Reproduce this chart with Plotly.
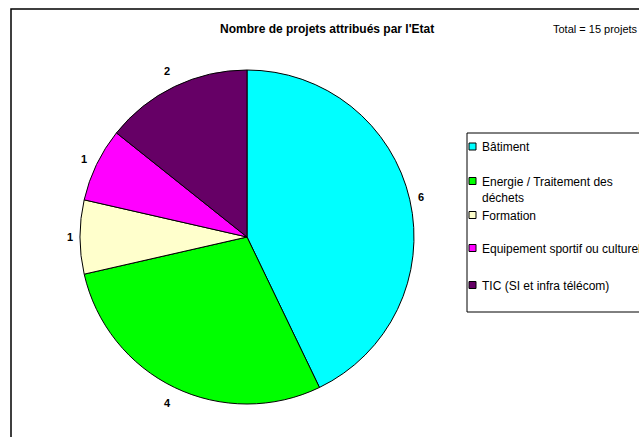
import math
import plotly.graph_objects as go

categories = ["Bâtiment", "Energie / Traitement des déchets", "Formation",
              "Equipement sportif ou culturel", "TIC (SI et infra télécom)"]
legend_labels = ["Bâtiment", "Energie / Traitement des<br>déchets", "Formation",
                 "Equipement sportif ou culturel", "TIC (SI et infra télécom)"]
values = [6, 4, 1, 1, 2]
colors = ["#00FFFF", "#00FF00", "#FFFFCC", "#FF00FF", "#660066"]
title = "Nombre de projets attribués par l'Etat"
total_text = "Total = 15 projets"

W, H = 639, 437
FONT = "Arial, Liberation Sans, sans-serif"


def px(x):
    return x / W


def py(y):
    return 1 - y / H


cx, cy, r = 247, 237, 167

fig = go.Figure(go.Pie(
    labels=categories,
    values=values,
    sort=False,
    direction="clockwise",
    rotation=0,
    marker=dict(colors=colors, line=dict(color="black", width=1)),
    textinfo="none",
    showlegend=False,
    domain=dict(x=[px(cx - r), px(cx + r)], y=[py(cy + r), py(cy - r)]),
    hoverinfo="label+value",
))

shapes = []
annotations = []

# value labels outside each slice, placed at the slice's mid angle
total = sum(values)
acc = 0
for v in values:
    mid = (acc + v / 2) / total * 2 * math.pi
    acc += v
    s, c = math.sin(mid), math.cos(mid)
    dist = r + 10 + 8 * abs(c)
    annotations.append(dict(text="<b>%d</b>" % v, x=px(cx + dist * s), y=py(cy - dist * c),
                            xref="paper", yref="paper", showarrow=False,
                            xanchor="center", yanchor="middle",
                            font=dict(family=FONT, size=11, color="black")))

# outer frame
shapes.append(dict(type="rect", xref="paper", yref="paper",
                   x0=px(11), x1=px(W + 100), y0=py(H + 100), y1=py(9),
                   line=dict(color="black", width=1.5), fillcolor="rgba(0,0,0,0)"))

# title and total
annotations.append(dict(text="<b>" + title + "</b>", x=px(327), y=py(29), xref="paper", yref="paper",
                        showarrow=False, xanchor="center", yanchor="middle",
                        font=dict(family=FONT, size=12, color="black")))
annotations.append(dict(text=total_text, x=px(551), y=py(29), xref="paper", yref="paper",
                        showarrow=False, xanchor="left", yanchor="middle",
                        font=dict(family=FONT, size=11, color="black")))

# legend box
shapes.append(dict(type="rect", xref="paper", yref="paper",
                   x0=px(467), x1=px(W + 100), y0=py(312), y1=py(133),
                   line=dict(color="black", width=1), fillcolor="white"))

leg_y = [146.5, 181, 215, 248, 285]
for lab, col, yy in zip(legend_labels, colors, leg_y):
    shapes.append(dict(type="rect", xref="paper", yref="paper",
                       x0=px(469), x1=px(476), y0=py(yy + 3.5), y1=py(yy - 3.5),
                       line=dict(color="black", width=1), fillcolor=col))
    annotations.append(dict(text=lab, x=px(480), y=py(yy - 8), xref="paper", yref="paper",
                            showarrow=False, xanchor="left", yanchor="top", align="left",
                            font=dict(family=FONT, size=12, color="black")))

fig.update_layout(
    width=W, height=H,
    margin=dict(l=0, r=0, t=0, b=0),
    paper_bgcolor="white",
    plot_bgcolor="white",
    shapes=shapes,
    annotations=annotations,
)

fig.write_html("out.html", config={"displayModeBar": False},
               post_script="document.body.style.margin='0';")
